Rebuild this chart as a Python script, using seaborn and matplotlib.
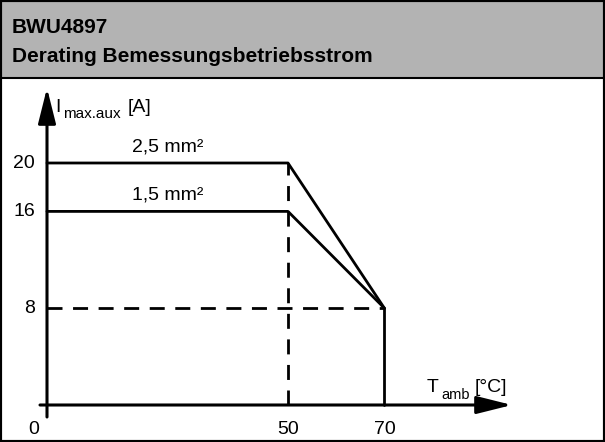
import pandas as pd
import matplotlib.pyplot as plt
import seaborn as sns
from matplotlib.patches import Rectangle

# derating curves (x = T_amb in °C, y = I_max.aux in A)
temp = [0, 50, 70]
current_25 = [20, 20, 8]
current_15 = [16, 16, 8]
curve_labels = ['2,5 mm²', '1,5 mm²']
x_ticks = [0, 50, 70]
y_ticks = [8, 16, 20]

sns.set_theme(style='white')
plt.rcParams['font.family'] = ['Liberation Sans', 'DejaVu Sans']
plt.rcParams['text.color'] = 'black'

df = pd.DataFrame({
    'T': temp * 2,
    'I': current_25 + current_15,
    'cable': [curve_labels[0]] * 3 + [curve_labels[1]] * 3,
})

W, H = 605, 442
fig = plt.figure(figsize=(W / 100, H / 100), dpi=100)

# header box + outer frame
fig.patches.append(Rectangle((0, 1 - 78 / H), 1, 78 / H, transform=fig.transFigure,
                             facecolor='#b3b3b3', edgecolor='black', lw=1.5, zorder=0))
fig.patches.append(Rectangle((0, 0), 1, 1, transform=fig.transFigure,
                             facecolor='none', edgecolor='black', lw=3, zorder=5))
fig.text(12 / W, 1 - 33 / H, 'BWU4897', fontsize=15, fontweight='bold', va='baseline')
fig.text(12 / W, 1 - 62 / H, 'Derating Bemessungsbetriebsstrom', fontsize=15,
         fontweight='bold', va='baseline')

# pixel scale: 0 -> x=47, 70 -> x=384, 0 -> y=405, 20 -> y=163
x0, xs = 47, 4.82
y0, ys = 405, 12.1
ax = fig.add_axes([0, 0, 1, (H - 80) / H])
ax.set_xlim(-x0 / xs, (W - x0) / xs)
ax.set_ylim((y0 - H) / ys, (y0 - 80) / ys)
ax.axis('off')


def px(x, y):
    # pixel position of the image -> data coords
    return (x - x0) / xs, (y0 - y) / ys


sns.lineplot(data=df, x='T', y='I', hue='cable', palette=['black', 'black'],
             linewidth=2, legend=False, ax=ax)

# vertical drop at 70
ax.plot([temp[2], temp[2]], [0, current_25[2]], color='black', lw=2)
# dashed guides
ax.plot([0, temp[2]], [current_25[2], current_25[2]], color='black', lw=2,
        dashes=(5.4, 3.8))
ax.plot([temp[1], temp[1]], [0, current_25[1]], color='black', lw=2,
        dashes=(5.4, 3.8))

# axes with arrows
arrow = dict(arrowstyle='-|>,head_length=1.8,head_width=0.45',
             color='black', lw=2.2, shrinkA=0, shrinkB=0)
ax.annotate('', xy=px(512, y0), xytext=px(40, y0), arrowprops=arrow)
ax.annotate('', xy=px(x0, 88), xytext=px(x0, 417), arrowprops=arrow)

# tick labels
for t in x_ticks:
    xx = t if t > 0 else px(34, 0)[0]
    ax.text(xx, px(0, 429)[1], str(t), ha='center', va='center', fontsize=14)
for t in y_ticks:
    ax.text(px(35, 0)[0], t, str(t), ha='right', va='center', fontsize=14)

# curve labels
ax.text(25, current_25[0] + 1.35, curve_labels[0], ha='center', va='center', fontsize=14)
ax.text(25, current_15[0] + 1.35, curve_labels[1], ha='center', va='center', fontsize=14)

# axis titles, subscripts as separate texts
ax.text(*px(55, 112), 'I', va='baseline', fontsize=14)
ax.text(*px(63, 118), 'max.aux', va='baseline', fontsize=11)
ax.text(*px(128, 112), '[A]', va='baseline', fontsize=14)
ax.text(*px(427, 392), 'T', va='baseline', fontsize=14)
ax.text(*px(441, 399), 'amb', va='baseline', fontsize=10.5)
ax.text(*px(475, 392), '[°C]', va='baseline', fontsize=14)

fig.savefig('out.png', dpi=100)
